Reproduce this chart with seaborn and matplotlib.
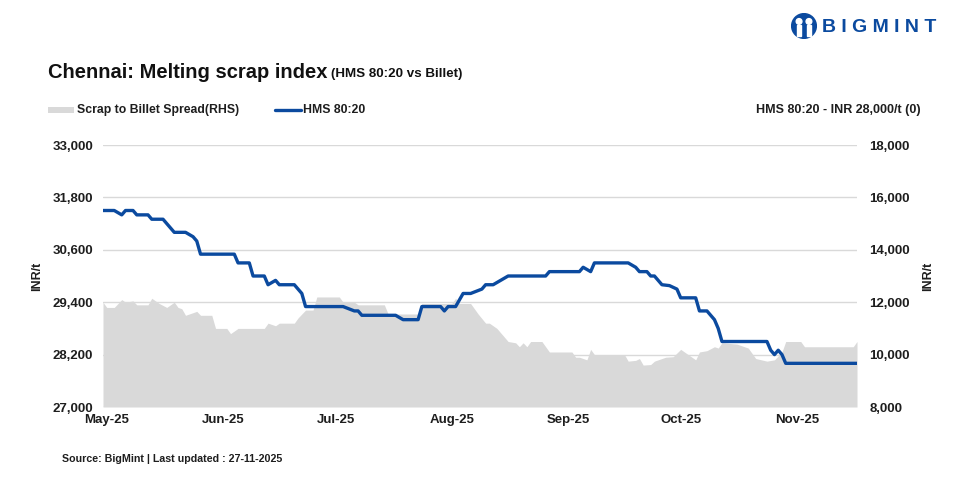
import pandas as pd
import matplotlib
matplotlib.use("Agg")
import matplotlib.pyplot as plt
import matplotlib.dates as mdates
import matplotlib.transforms as mtransforms
from matplotlib.ticker import FixedLocator, FuncFormatter
from matplotlib.patches import Circle, Rectangle
from matplotlib.lines import Line2D
import seaborn as sns

# HMS 80:20 price (LHS, INR/t) - breakpoints
hms_dates = [
    "2025-05-01", "2025-05-04", "2025-05-06", "2025-05-07", "2025-05-09", "2025-05-10",
    "2025-05-13", "2025-05-14", "2025-05-17", "2025-05-20", "2025-05-23", "2025-05-25",
    "2025-05-26", "2025-05-27", "2025-06-05", "2025-06-06", "2025-06-09", "2025-06-10",
    "2025-06-13", "2025-06-14", "2025-06-16", "2025-06-17", "2025-06-21", "2025-06-23",
    "2025-06-24", "2025-07-04", "2025-07-07", "2025-07-08", "2025-07-09", "2025-07-18",
    "2025-07-20", "2025-07-24", "2025-07-25", "2025-07-30", "2025-07-31", "2025-08-01",
    "2025-08-03", "2025-08-05", "2025-08-07", "2025-08-10", "2025-08-11", "2025-08-13",
    "2025-08-17", "2025-08-27", "2025-08-28", "2025-09-05", "2025-09-06", "2025-09-08",
    "2025-09-09", "2025-09-18", "2025-09-20", "2025-09-21", "2025-09-23", "2025-09-24",
    "2025-09-25", "2025-09-27", "2025-09-29", "2025-10-01", "2025-10-02", "2025-10-06",
    "2025-10-07", "2025-10-09", "2025-10-11", "2025-10-12", "2025-10-13", "2025-10-25",
    "2025-10-26", "2025-10-27", "2025-10-28", "2025-10-29", "2025-10-30", "2025-11-18",
]
hms_values = [
    31500, 31500, 31400, 31500, 31500, 31400,
    31400, 31300, 31300, 31000, 31000, 30900,
    30800, 30500, 30500, 30300, 30300, 30000,
    30000, 29800, 29900, 29800, 29800, 29600,
    29300, 29300, 29200, 29200, 29100, 29100,
    29000, 29000, 29300, 29300, 29200, 29300,
    29300, 29600, 29600, 29700, 29800, 29800,
    30000, 30000, 30100, 30100, 30200, 30100,
    30300, 30300, 30200, 30100, 30100, 30000,
    30000, 29800, 29780, 29700, 29500, 29500,
    29200, 29200, 29000, 28800, 28500, 28500,
    28300, 28200, 28300, 28200, 28000, 28000,
]

# Scrap to billet spread (RHS, INR/t)
spread_dates = [
    "2025-05-01", "2025-05-02", "2025-05-04", "2025-05-06", "2025-05-07", "2025-05-09",
    "2025-05-10", "2025-05-13", "2025-05-14", "2025-05-16", "2025-05-18", "2025-05-20",
    "2025-05-21", "2025-05-22", "2025-05-23", "2025-05-25", "2025-05-26", "2025-05-27",
    "2025-05-30", "2025-05-31", "2025-06-03", "2025-06-04", "2025-06-06", "2025-06-13",
    "2025-06-14", "2025-06-16", "2025-06-17", "2025-06-21", "2025-06-22", "2025-06-24",
    "2025-06-26", "2025-06-27", "2025-07-03", "2025-07-04", "2025-07-07", "2025-07-08",
    "2025-07-15", "2025-07-16", "2025-07-24", "2025-07-25", "2025-08-02", "2025-08-03",
    "2025-08-04", "2025-08-07", "2025-08-09", "2025-08-11", "2025-08-12", "2025-08-14",
    "2025-08-17", "2025-08-19", "2025-08-20", "2025-08-21", "2025-08-22", "2025-08-23",
    "2025-08-26", "2025-08-28", "2025-09-03", "2025-09-04", "2025-09-05", "2025-09-07",
    "2025-09-08", "2025-09-09", "2025-09-17", "2025-09-18", "2025-09-20", "2025-09-21",
    "2025-09-22", "2025-09-24", "2025-09-25", "2025-09-28", "2025-09-30", "2025-10-02",
    "2025-10-04", "2025-10-06", "2025-10-07", "2025-10-09", "2025-10-11", "2025-10-12",
    "2025-10-13", "2025-10-17", "2025-10-20", "2025-10-22", "2025-10-25", "2025-10-27",
    "2025-10-29", "2025-10-30", "2025-11-03", "2025-11-04", "2025-11-17", "2025-11-18",
]
spread_values = [
    12000, 11800, 11800, 12100, 12000, 12050,
    11900, 11900, 12150, 11950, 11800, 12000,
    11800, 11750, 11500, 11600, 11650, 11500,
    11500, 11000, 11000, 10800, 11000, 11000,
    11200, 11100, 11200, 11200, 11400, 11700,
    11700, 12200, 12200, 12000, 12000, 11900,
    11900, 11550, 11550, 11950, 11950, 12150,
    11950, 11950, 11550, 11200, 11200, 11000,
    10500, 10450, 10300, 10450, 10300, 10500,
    10500, 10100, 10100, 9900, 9900, 9800,
    10200, 10000, 10000, 9750, 9780, 9850,
    9600, 9620, 9750, 9900, 9920, 10200,
    10000, 9800, 10100, 10150, 10300, 10250,
    10450, 10400, 10250, 9850, 9750, 9800,
    10100, 10500, 10500, 10300, 10300, 10500,
]

left_ticks = [27000, 28200, 29400, 30600, 31800, 33000]
right_ticks = [8000, 10000, 12000, 14000, 16000, 18000]
months = ["2025-05-01", "2025-06-01", "2025-07-01", "2025-08-01",
          "2025-09-01", "2025-10-01", "2025-11-01"]

BLUE = "#0b4a9f"
GREY = "#d9d9d9"
INK = "#1e1e1e"
FONT = ["Liberation Sans", "DejaVu Sans"]

hms = pd.DataFrame({"date": pd.to_datetime(hms_dates), "value": hms_values})
spread = pd.DataFrame({"date": pd.to_datetime(spread_dates), "value": spread_values})

sns.set_style("white")
plt.rcParams["font.family"] = FONT

fig = plt.figure(figsize=(9.6, 4.79), dpi=100)
ax = fig.add_axes([103 / 960, 1 - 407 / 479, 754 / 960, 262 / 479])
ax2 = ax.twinx()

# spread area on the right axis, underneath
ax2.set_axisbelow(True)
ax2.fill_between(spread["date"], spread["value"], 8000, color=GREY, lw=0, zorder=1)
ax2.set_ylim(8000, 18000)
ax2.yaxis.set_major_locator(FixedLocator(right_ticks))
ax2.grid(axis="y", color=GREY, lw=1)

# HMS line on the left axis, on top
ax.set_zorder(ax2.get_zorder() + 1)
ax.patch.set_visible(False)
sns.lineplot(data=hms, x="date", y="value", ax=ax, color=BLUE, lw=2.4)
ax.set_ylim(27000, 33000)
ax.yaxis.set_major_locator(FixedLocator(left_ticks))
ax.set_xlim(hms["date"].iloc[0], hms["date"].iloc[-1])
ax.xaxis.set_major_locator(FixedLocator(mdates.date2num(pd.to_datetime(months))))
ax.xaxis.set_major_formatter(mdates.DateFormatter("%b-%y"))
ax.grid(False)

fmt = FuncFormatter(lambda v, p: f"{v:,.0f}")
for a in (ax, ax2):
    a.yaxis.set_major_formatter(fmt)
    for s in a.spines.values():
        s.set_visible(False)
    a.tick_params(length=0)
    a.set_xlabel("")

ax.tick_params(axis="y", labelsize=9.5, pad=7, colors=INK)
ax2.tick_params(axis="y", labelsize=9.5, pad=9, colors=INK)
for lab in ax.get_yticklabels() + ax2.get_yticklabels():
    lab.set_fontweight("bold")
ax.tick_params(axis="x", labelsize=9.5, pad=5, colors=INK)
shift = mtransforms.ScaledTranslation(4 / 100, 0, fig.dpi_scale_trans)
for lab in ax.get_xticklabels():
    lab.set_fontweight("bold")
    lab.set_transform(lab.get_transform() + shift)

ax.set_ylabel("INR/t", fontsize=9, fontweight="bold", labelpad=7, color=INK)
ax2.set_ylabel("INR/t", fontsize=9, fontweight="bold", labelpad=9, color=INK)

# title
fig.text(48 / 960, 1 - 73 / 479, "Chennai: Melting scrap index", fontsize=14.5,
         fontweight="bold", va="center", color="#111111")
fig.text(331 / 960, 1 - 74 / 479, "(HMS 80:20 vs Billet)", fontsize=9.6,
         fontweight="bold", va="center", color="#111111")

# legend row
fig.add_artist(Rectangle((48 / 960, 1 - 113 / 479), 26 / 960, 6 / 479,
                         transform=fig.transFigure, color=GREY, lw=0))
fig.text(77 / 960, 1 - 110 / 479, "Scrap to Billet Spread(RHS)", fontsize=8.8,
         fontweight="bold", va="center", color=INK)
fig.add_artist(Line2D([275 / 960, 301 / 960], [1 - 110 / 479] * 2,
                      transform=fig.transFigure, color=BLUE, lw=2.4))
fig.text(303 / 960, 1 - 110 / 479, "HMS 80:20", fontsize=8.8,
         fontweight="bold", va="center", color=INK)
fig.text(921 / 960, 1 - 110 / 479, "HMS 80:20 - INR 28,000/t (0)", fontsize=9,
         fontweight="bold", va="center", ha="right", color=INK)

# source
fig.text(62 / 960, 1 - 459 / 479, "Source: BigMint | Last updated : 27-11-2025",
         fontsize=7.7, fontweight="bold", va="center", color=INK)

# logo
logo = fig.add_axes([791 / 960, 1 - 40 / 479, 26 / 960, 28 / 479])
logo.set_xlim(-1, 1)
logo.set_ylim(-1, 1)
logo.set_aspect("equal")
logo.axis("off")
logo.add_patch(Circle((0, 0), 0.95, color=BLUE))
logo.add_patch(Circle((-0.38, 0.35), 0.22, color="white"))
logo.add_patch(Circle((0.38, 0.35), 0.22, color="white"))
logo.add_patch(Rectangle((-0.55, -0.75), 0.3, 0.85, color="white"))
logo.add_patch(Rectangle((0.25, -0.75), 0.3, 0.85, color="white"))
fig.text(822 / 960, 1 - 28 / 479, "B I G M I N T", fontsize=14, fontweight="bold",
         va="center", color=BLUE)

fig.savefig("out.png", dpi=100)
